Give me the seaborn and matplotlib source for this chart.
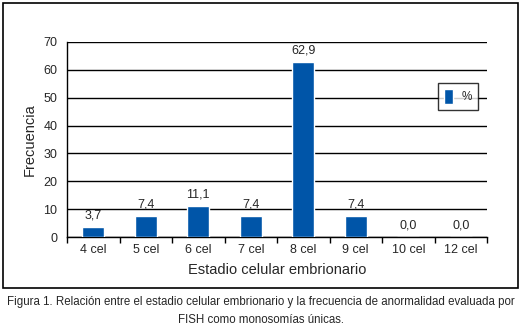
import matplotlib
matplotlib.use("Agg")
import matplotlib.pyplot as plt
import seaborn as sns
import pandas as pd
from matplotlib.patches import Rectangle, Patch

estadios = ["4 cel", "5 cel", "6 cel", "7 cel", "8 cel", "9 cel", "10 cel", "12 cel"]
frecuencia = [3.7, 7.4, 11.1, 7.4, 62.9, 7.4, 0.0, 0.0]
y_ticks = [0, 10, 20, 30, 40, 50, 60, 70]

sns.set_style("white")
narrow = ["Liberation Sans Narrow", "Liberation Sans", "DejaVu Sans"]
plt.rcParams["font.family"] = narrow

bar_color = "#0055A8"
df = pd.DataFrame({"estadio": estadios, "frecuencia": frecuencia})

fig = plt.figure(figsize=(5.22, 3.30), dpi=100)
ax = fig.add_axes([67 / 522, 1 - 237 / 330, 420 / 522, 195 / 330])

sns.barplot(data=df, x="estadio", y="frecuencia", color=bar_color,
            width=0.42, saturation=1, ax=ax, zorder=3)

ax.set_ylim(0, 70)
ax.set_xlim(-0.5, len(estadios) - 0.5)
ax.set_yticks(y_ticks)
ax.set_yticklabels([str(t) for t in y_ticks], fontsize=9)
ax.yaxis.grid(True, color="black", linewidth=1)
ax.set_axisbelow(True)

ax.set_xticks(range(len(estadios)))
ax.set_xticklabels(estadios, fontsize=9)
ax.set_xticks([i - 0.5 for i in range(len(estadios) + 1)], minor=True)
ax.tick_params(axis="x", which="major", length=0, pad=5)
ax.tick_params(axis="x", which="minor", length=4, width=1, color="black", direction="out")
ax.tick_params(axis="y", length=3, width=1, color="#888888", direction="out", pad=4)
ax.xaxis.set_tick_params(which="minor", bottom=True)

for s in ["top", "right"]:
    ax.spines[s].set_visible(False)
for s in ["left", "bottom"]:
    ax.spines[s].set_color("black")
    ax.spines[s].set_linewidth(1)

ax.bar_label(ax.containers[0], labels=[f"{v:.1f}".replace(".", ",") for v in frecuencia],
             padding=4, fontsize=9)

ax.set_xlabel("Estadio celular embrionario", fontsize=10.5, labelpad=5)
ax.set_ylabel("Frecuencia", fontsize=10.5, labelpad=5)

leg = ax.legend(handles=[Patch(facecolor=bar_color, label="%")], loc="upper left",
                bbox_to_anchor=(371 / 420, (237 - 83) / 195), frameon=True, fancybox=False,
                edgecolor="black", handlelength=0.8, handleheight=1.6,
                fontsize=8.5, borderpad=0.5, handletextpad=0.7, borderaxespad=0)
leg.get_frame().set_linewidth(1)

fig.patches.append(Rectangle((3 / 522, 1 - 288 / 330), 515 / 522, 285 / 330,
                             transform=fig.transFigure, fill=False,
                             edgecolor="black", linewidth=1.2))

fig.text(0.5, 1 - 302 / 330,
         "Figura 1. Relación entre el estadio celular embrionario y la frecuencia de anormalidad evaluada por",
         ha="center", va="center", fontsize=8.3, family=["Liberation Sans", "DejaVu Sans"])
fig.text(0.5, 1 - 320 / 330, "FISH como monosomías únicas.",
         ha="center", va="center", fontsize=8.3, family=["Liberation Sans", "DejaVu Sans"])

fig.savefig("out.png", dpi=100)
